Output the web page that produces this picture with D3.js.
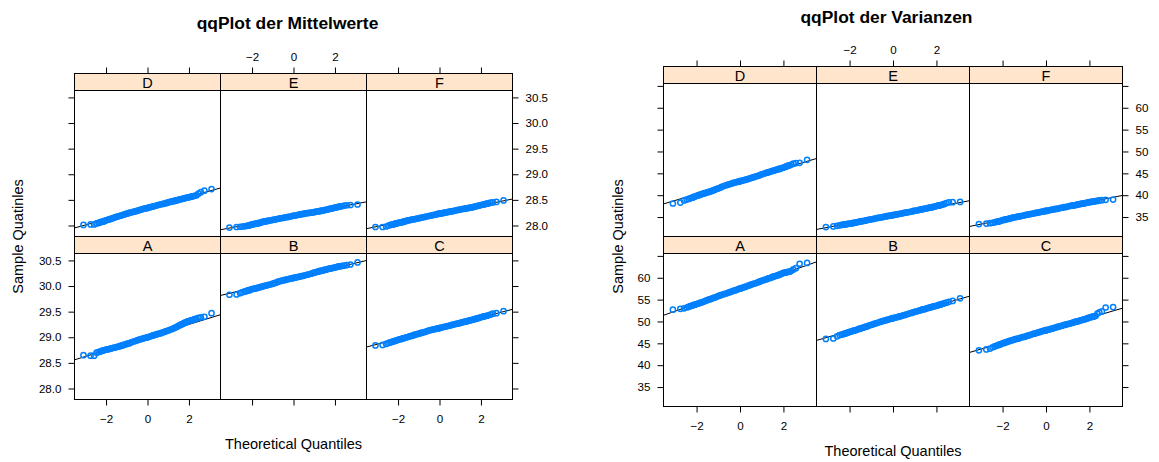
<!DOCTYPE html>
<html>
<head>
<meta charset="utf-8">
<script src="https://cdn.jsdelivr.net/npm/d3@7"></script>
<style>
  body { margin: 0; background: #fff; }
  svg text { font-family: "Liberation Sans", Arial, sans-serif; fill: #000; }
</style>
</head>
<body>
<svg id="chart" width="1159" height="462"></svg>
<script>
// ---- data -------------------------------------------------------------
// Each group holds 500 simulated statistics; the order statistics below are
// kept at these ranks (lower half, the upper half mirrors them).
const sampleSize = 500;
const lowerRanks = [1, 2, 3, 4, 5, 6, 7, 8, 9, 10, 12, 14, 16, 18, 20, 23, 26, 30, 34, 38,
  43, 48, 54, 60, 70, 80, 90, 100, 115, 130, 145, 160, 175, 190, 205, 220, 235, 250];

// layout order of the trellis: top row D E F, bottom row A B C
const panelRows = [["D", "E", "F"], ["A", "B", "C"]];

// sorted sample quantiles of the group means
const meanA = [28.65, 28.64, 28.64, 28.70, 28.71, 28.72, 28.73, 28.74, 28.745, 28.75, 28.76, 28.765, 28.77, 28.775, 28.78, 28.79, 28.795, 28.80, 28.81, 28.815, 28.82, 28.83, 28.835, 28.845, 28.86, 28.87, 28.88, 28.89, 28.905, 28.92, 28.93, 28.945, 28.955, 28.965, 28.975, 28.985, 28.99, 29.00,
  29.00, 29.01, 29.02, 29.03, 29.04, 29.05, 29.06, 29.07, 29.08, 29.095, 29.11, 29.12, 29.13, 29.145, 29.16, 29.17, 29.185, 29.195, 29.21, 29.225, 29.235, 29.25, 29.26, 29.275, 29.285, 29.295, 29.305, 29.315, 29.325, 29.33, 29.335, 29.345, 29.355, 29.365, 29.38, 29.39, 29.40, 29.47];
const meanB = [29.83, 29.835, 29.86, 29.88, 29.89, 29.90, 29.91, 29.915, 29.92, 29.93, 29.94, 29.945, 29.95, 29.955, 29.96, 29.97, 29.975, 29.985, 29.99, 30.00, 30.005, 30.01, 30.02, 30.025, 30.035, 30.045, 30.055, 30.065, 30.085, 30.095, 30.105, 30.115, 30.12, 30.13, 30.135, 30.145, 30.15, 30.155,
  30.16, 30.165, 30.17, 30.18, 30.185, 30.195, 30.20, 30.21, 30.22, 30.23, 30.24, 30.25, 30.26, 30.27, 30.28, 30.29, 30.295, 30.30, 30.31, 30.315, 30.32, 30.33, 30.335, 30.34, 30.345, 30.35, 30.355, 30.36, 30.37, 30.375, 30.38, 30.385, 30.39, 30.395, 30.40, 30.41, 30.42, 30.46];
const meanC = [28.84, 28.85, 28.87, 28.89, 28.90, 28.91, 28.92, 28.925, 28.93, 28.94, 28.95, 28.96, 28.965, 28.97, 28.98, 28.985, 28.995, 29.00, 29.01, 29.02, 29.025, 29.03, 29.04, 29.05, 29.06, 29.07, 29.08, 29.09, 29.10, 29.11, 29.125, 29.135, 29.145, 29.15, 29.16, 29.165, 29.175, 29.18,
  29.18, 29.19, 29.195, 29.205, 29.21, 29.22, 29.225, 29.235, 29.245, 29.255, 29.265, 29.27, 29.28, 29.29, 29.30, 29.305, 29.31, 29.32, 29.325, 29.33, 29.34, 29.345, 29.355, 29.36, 29.37, 29.375, 29.38, 29.39, 29.40, 29.405, 29.41, 29.415, 29.42, 29.43, 29.44, 29.46, 29.47, 29.51];
const meanD = [28.01, 28.02, 28.02, 28.04, 28.05, 28.06, 28.07, 28.075, 28.08, 28.09, 28.10, 28.11, 28.115, 28.125, 28.13, 28.14, 28.15, 28.16, 28.17, 28.175, 28.185, 28.19, 28.20, 28.21, 28.22, 28.23, 28.24, 28.25, 28.26, 28.27, 28.28, 28.29, 28.30, 28.31, 28.32, 28.33, 28.335, 28.34,
  28.345, 28.35, 28.36, 28.37, 28.375, 28.385, 28.395, 28.405, 28.415, 28.42, 28.43, 28.44, 28.45, 28.46, 28.47, 28.475, 28.48, 28.49, 28.495, 28.50, 28.51, 28.515, 28.52, 28.53, 28.535, 28.54, 28.545, 28.55, 28.56, 28.565, 28.57, 28.575, 28.58, 28.59, 28.62, 28.65, 28.68, 28.71];
const meanE = [27.96, 27.97, 27.975, 27.98, 27.985, 27.99, 27.995, 28.00, 28.005, 28.01, 28.02, 28.025, 28.03, 28.035, 28.04, 28.045, 28.05, 28.06, 28.07, 28.075, 28.08, 28.085, 28.09, 28.095, 28.10, 28.11, 28.115, 28.12, 28.13, 28.14, 28.145, 28.15, 28.16, 28.165, 28.17, 28.175, 28.185, 28.19,
  28.19, 28.195, 28.20, 28.21, 28.215, 28.22, 28.225, 28.235, 28.24, 28.245, 28.25, 28.255, 28.26, 28.27, 28.275, 28.28, 28.285, 28.29, 28.295, 28.30, 28.305, 28.31, 28.32, 28.325, 28.33, 28.335, 28.34, 28.35, 28.355, 28.36, 28.365, 28.37, 28.375, 28.38, 28.39, 28.395, 28.40, 28.41];
const meanF = [27.97, 27.97, 27.98, 28.00, 28.01, 28.015, 28.02, 28.03, 28.035, 28.04, 28.05, 28.055, 28.06, 28.065, 28.07, 28.08, 28.085, 28.095, 28.10, 28.105, 28.11, 28.115, 28.12, 28.125, 28.135, 28.14, 28.15, 28.155, 28.165, 28.175, 28.18, 28.19, 28.195, 28.205, 28.21, 28.215, 28.225, 28.23,
  28.23, 28.235, 28.24, 28.25, 28.255, 28.26, 28.27, 28.275, 28.28, 28.29, 28.30, 28.305, 28.31, 28.32, 28.325, 28.33, 28.335, 28.34, 28.345, 28.35, 28.355, 28.36, 28.37, 28.375, 28.38, 28.385, 28.39, 28.40, 28.405, 28.41, 28.415, 28.42, 28.425, 28.43, 28.445, 28.45, 28.46, 28.49];

// sorted sample quantiles of the group variances
const varA = [52.7, 52.9, 53.0, 53.2, 53.35, 53.5, 53.6, 53.7, 53.8, 53.85, 54.0, 54.1, 54.2, 54.3, 54.4, 54.5, 54.6, 54.8, 54.9, 55.0, 55.1, 55.2, 55.35, 55.45, 55.65, 55.8, 55.95, 56.1, 56.25, 56.4, 56.55, 56.7, 56.85, 57.0, 57.1, 57.25, 57.4, 57.5,
  57.5, 57.65, 57.8, 57.9, 58.05, 58.2, 58.35, 58.5, 58.65, 58.8, 59.0, 59.15, 59.3, 59.45, 59.6, 59.7, 59.85, 59.95, 60.05, 60.2, 60.3, 60.4, 60.5, 60.6, 60.7, 60.8, 60.95, 61.1, 61.2, 61.25, 61.3, 61.35, 61.4, 61.6, 61.9, 62.2, 63.2, 63.4];
const varB = [46.0, 46.1, 46.6, 46.9, 47.0, 47.1, 47.2, 47.3, 47.4, 47.45, 47.6, 47.7, 47.8, 47.9, 47.95, 48.05, 48.15, 48.3, 48.4, 48.5, 48.6, 48.7, 48.8, 48.9, 49.1, 49.25, 49.35, 49.5, 49.65, 49.8, 49.95, 50.1, 50.2, 50.3, 50.45, 50.55, 50.65, 50.75,
  50.75, 50.85, 50.95, 51.05, 51.15, 51.25, 51.4, 51.5, 51.65, 51.8, 51.95, 52.05, 52.2, 52.3, 52.45, 52.55, 52.65, 52.75, 52.8, 52.9, 53.0, 53.1, 53.2, 53.3, 53.35, 53.45, 53.5, 53.6, 53.7, 53.8, 53.85, 53.95, 54.05, 54.15, 54.3, 54.5, 54.7, 55.3];
const varC = [43.4, 43.6, 43.8, 44.1, 44.3, 44.45, 44.55, 44.65, 44.75, 44.85, 45.0, 45.1, 45.2, 45.3, 45.4, 45.5, 45.6, 45.7, 45.8, 45.9, 46.0, 46.05, 46.15, 46.25, 46.4, 46.5, 46.6, 46.75, 46.9, 47.05, 47.2, 47.3, 47.45, 47.55, 47.7, 47.8, 47.9, 48.0,
  48.0, 48.1, 48.2, 48.3, 48.4, 48.55, 48.65, 48.8, 48.9, 49.05, 49.2, 49.3, 49.4, 49.5, 49.65, 49.75, 49.85, 49.95, 50.0, 50.1, 50.2, 50.3, 50.4, 50.5, 50.55, 50.65, 50.75, 50.9, 51.0, 51.05, 51.1, 51.2, 51.3, 51.8, 52.1, 52.3, 53.2, 53.3];
const varD = [38.1, 38.3, 38.8, 39.0, 39.15, 39.3, 39.4, 39.5, 39.6, 39.7, 39.85, 39.95, 40.05, 40.15, 40.25, 40.35, 40.45, 40.55, 40.65, 40.75, 40.85, 40.95, 41.1, 41.2, 41.4, 41.55, 41.7, 41.9, 42.1, 42.25, 42.4, 42.55, 42.65, 42.8, 42.9, 43.0, 43.1, 43.2,
  43.2, 43.3, 43.4, 43.5, 43.6, 43.75, 43.85, 44.0, 44.15, 44.3, 44.45, 44.6, 44.75, 44.9, 45.05, 45.15, 45.25, 45.35, 45.45, 45.55, 45.65, 45.75, 45.85, 45.95, 46.0, 46.1, 46.2, 46.3, 46.45, 46.55, 46.65, 46.75, 46.85, 47.0, 47.2, 47.35, 47.4, 48.1];
const varE = [32.7, 32.85, 33.0, 33.1, 33.2, 33.25, 33.3, 33.35, 33.4, 33.45, 33.5, 33.55, 33.6, 33.65, 33.7, 33.8, 33.85, 33.9, 34.0, 34.05, 34.1, 34.15, 34.25, 34.3, 34.4, 34.5, 34.55, 34.65, 34.75, 34.85, 34.9, 35.0, 35.1, 35.15, 35.25, 35.3, 35.4, 35.45,
  35.45, 35.5, 35.6, 35.65, 35.75, 35.8, 35.9, 36.0, 36.05, 36.15, 36.25, 36.35, 36.45, 36.5, 36.6, 36.7, 36.75, 36.8, 36.9, 36.95, 37.0, 37.1, 37.15, 37.2, 37.3, 37.35, 37.4, 37.5, 37.6, 37.65, 37.7, 37.8, 37.85, 38.0, 38.2, 38.35, 38.4, 38.45];
const varF = [33.4, 33.5, 33.6, 33.7, 33.8, 33.9, 33.95, 34.0, 34.1, 34.15, 34.3, 34.35, 34.45, 34.5, 34.55, 34.65, 34.7, 34.8, 34.9, 34.95, 35.0, 35.1, 35.15, 35.2, 35.3, 35.4, 35.5, 35.55, 35.65, 35.75, 35.85, 35.95, 36.0, 36.1, 36.2, 36.25, 36.35, 36.4,
  36.4, 36.5, 36.55, 36.65, 36.7, 36.8, 36.85, 36.95, 37.05, 37.15, 37.25, 37.3, 37.4, 37.5, 37.6, 37.65, 37.7, 37.75, 37.85, 37.9, 37.95, 38.05, 38.1, 38.15, 38.2, 38.25, 38.3, 38.4, 38.45, 38.5, 38.55, 38.6, 38.65, 38.7, 38.8, 38.85, 38.95, 39.0];

// axis ticks
const quantileTicks = [-2, 0, 2];
const meanTicks = [28.0, 28.5, 29.0, 29.5, 30.0, 30.5];
const meanTickLabels = ["28.0", "28.5", "29.0", "29.5", "30.0", "30.5"];
const varTicks = [35, 40, 45, 50, 55, 60, 65];
const varTickLabels = ["35", "40", "45", "50", "55", "60", ""];

// ---- helpers ----------------------------------------------------------
// inverse standard normal CDF (Acklam's rational approximation)
function qnorm(p) {
  const a = [-3.969683028665376e+01, 2.209460984245205e+02, -2.759285104469687e+02, 1.383577518672690e+02, -3.066479806614716e+01, 2.506628277459239e+00];
  const b = [-5.447609879822406e+01, 1.615858368580409e+02, -1.556989798598866e+02, 6.680131188771972e+01, -1.328068155288572e+01];
  const c = [-7.784894002430293e-03, -3.223964580411365e-01, -2.400758277161838e+00, -2.549732539343734e+00, 4.374664141464968e+00, 2.938163982698783e+00];
  const d = [7.784695709041462e-03, 3.224671290700398e-01, 2.445134137142996e+00, 3.754408661907416e+00];
  const pl = 0.02425;
  if (p < pl) {
    const q = Math.sqrt(-2 * Math.log(p));
    return (((((c[0] * q + c[1]) * q + c[2]) * q + c[3]) * q + c[4]) * q + c[5]) / ((((d[0] * q + d[1]) * q + d[2]) * q + d[3]) * q + 1);
  }
  if (p > 1 - pl) return -qnorm(1 - p);
  const q = p - 0.5, r = q * q;
  return (((((a[0] * r + a[1]) * r + a[2]) * r + a[3]) * r + a[4]) * r + a[5]) * q /
    (((((b[0] * r + b[1]) * r + b[2]) * r + b[3]) * r + b[4]) * r + 1);
}

// theoretical quantiles at the kept ranks, ppoints(n) style
const ranks = lowerRanks.concat(lowerRanks.slice().reverse().map(r => sampleSize + 1 - r));
const theo = ranks.map(r => qnorm((r - 0.5) / sampleSize));

// sample value at a given theoretical quantile (linear between kept ranks)
function valueAt(z, ys) {
  const i = Math.max(0, Math.min(theo.length - 2, d3.bisectRight(theo, z) - 1));
  const t = (z - theo[i]) / (theo[i + 1] - theo[i]);
  return ys[i] + t * (ys[i + 1] - ys[i]);
}

const svg = d3.select("#chart");
const BLUE = "#0080ff";
const STRIP = "#ffe5cc";

function styleAxis(g) {
  g.select(".domain").remove();
  g.attr("font-family", null).attr("font-size", null);
  g.selectAll("line").attr("stroke", "#000");
  g.selectAll("text").style("font-size", "11.6px").attr("fill", "#000");
}

function drawTrellis(cfg) {
  const root = svg.append("g");
  const series = cfg.series;

  // limits shared by all panels, padded by 7% on each side
  const [xlo, xhi] = d3.extent(theo);
  const xpad = 0.07 * (xhi - xlo);
  const allY = Object.values(series).flat();
  const [ylo, yhi] = d3.extent(allY);
  const ypad = 0.07 * (yhi - ylo);

  const z25 = qnorm(0.25), z75 = qnorm(0.75);

  panelRows.forEach((rowNames, row) => {
    const top = row === 0 ? cfg.stripTop + cfg.stripH
                          : cfg.stripTop + 2 * cfg.stripH + cfg.panelH;
    rowNames.forEach((name, col) => {
      const left = cfg.x0 + col * cfg.panelW;
      const x = d3.scaleLinear().domain([xlo - xpad, xhi + xpad]).range([left, left + cfg.panelW]);
      const y = d3.scaleLinear().domain([ylo - ypad, yhi + ypad]).range([top + cfg.panelH, top]);
      const ys = series[name];
      const pts = theo.map((z, i) => [z, ys[i]]);

      // strip
      root.append("rect")
        .attr("x", left).attr("y", top - cfg.stripH)
        .attr("width", cfg.panelW).attr("height", cfg.stripH)
        .attr("fill", STRIP).attr("stroke", "#000").attr("stroke-width", 1);
      root.append("text")
        .attr("x", left + cfg.panelW / 2).attr("y", top - 2.5)
        .attr("text-anchor", "middle").style("font-size", "14.5px")
        .text(name);

      const clipId = `clip-${cfg.id}-${name}`;
      root.append("clipPath").attr("id", clipId)
        .append("rect").attr("x", left).attr("y", top)
        .attr("width", cfg.panelW).attr("height", cfg.panelH);
      const pg = root.append("g").attr("clip-path", `url(#${clipId})`);

      // reference line through the quartiles, drawn beneath the points
      const q25 = valueAt(z25, ys), q75 = valueAt(z75, ys);
      const slope = (q75 - q25) / (z75 - z25);
      const icpt = q25 - slope * z25;
      const [dx0, dx1] = x.domain();
      pg.append("line")
        .attr("x1", x(dx0)).attr("y1", y(icpt + slope * dx0))
        .attr("x2", x(dx1)).attr("y2", y(icpt + slope * dx1))
        .attr("stroke", "#000").attr("stroke-width", 1);

      // points
      pg.selectAll("circle").data(pts).join("circle")
        .attr("cx", d => x(d[0])).attr("cy", d => y(d[1]))
        .attr("r", 2.6)
        .attr("fill", "none").attr("stroke", BLUE).attr("stroke-width", 1.5);

      // panel border
      root.append("rect")
        .attr("x", left).attr("y", top)
        .attr("width", cfg.panelW).attr("height", cfg.panelH)
        .attr("fill", "none").attr("stroke", "#000").attr("stroke-width", 1);

      // x axes: ticks on the outer side, labels alternate between bottom and top
      if (row === 1) {
        root.append("g").attr("transform", `translate(0,${top + cfg.panelH})`)
          .call(d3.axisBottom(x).tickValues(quantileTicks).tickSize(6).tickPadding(9.5)
            .tickFormat(col === 1 ? () => "" : d3.format("d")))
          .call(styleAxis);
      } else {
        root.append("g").attr("transform", `translate(0,${top - cfg.stripH})`)
          .call(d3.axisTop(x).tickValues(quantileTicks).tickSize(6).tickPadding(6.3)
            .tickFormat(col === 1 ? d3.format("d") : () => ""))
          .call(styleAxis);
      }

      // y axes: left labels on the bottom row, right labels on the top row
      const lab = (d) => cfg.yTickLabels[cfg.yTicks.indexOf(d)];
      if (col === 0) {
        root.append("g").attr("transform", `translate(${left},0)`)
          .call(d3.axisLeft(y).tickValues(cfg.yTicks).tickSize(6).tickPadding(7)
            .tickFormat(row === 1 ? lab : () => ""))
          .call(styleAxis);
      }
      if (col === 2) {
        root.append("g").attr("transform", `translate(${left + cfg.panelW},0)`)
          .call(d3.axisRight(y).tickValues(cfg.yTicks).tickSize(6).tickPadding(7)
            .tickFormat(row === 0 ? lab : () => ""))
          .call(styleAxis);
      }
    });
  });

  // titles and axis labels
  root.append("text")
    .attr("x", cfg.titleX).attr("y", cfg.titleY)
    .attr("text-anchor", "middle")
    .style("font-size", "17.4px").style("font-weight", "bold")
    .text(cfg.title);

  const midY = (cfg.stripTop + cfg.stripTop + 2 * cfg.stripH + 2 * cfg.panelH) / 2;
  root.append("text")
    .attr("transform", `translate(${cfg.ylabX},${midY}) rotate(-90)`)
    .attr("text-anchor", "middle").style("font-size", "14.5px")
    .text("Sample Quatinles");

  root.append("text")
    .attr("x", cfg.x0 + 1.5 * cfg.panelW).attr("y", cfg.xlabY)
    .attr("text-anchor", "middle").style("font-size", "14.5px")
    .text("Theoretical Quantiles");
}

drawTrellis({
  id: "mean",
  title: "qqPlot der Mittelwerte",
  titleX: 287.5, titleY: 29.3,
  x0: 74.5, panelW: 146,
  stripTop: 73.5, stripH: 17, panelH: 146,
  series: { A: meanA, B: meanB, C: meanC, D: meanD, E: meanE, F: meanF },
  yTicks: meanTicks, yTickLabels: meanTickLabels,
  ylabX: 23, xlabY: 449
});

drawTrellis({
  id: "var",
  title: "qqPlot der Varianzen",
  titleX: 886.5, titleY: 22.7,
  x0: 663.5, panelW: 153,
  stripTop: 66.5, stripH: 17, panelH: 153,
  series: { A: varA, B: varB, C: varC, D: varD, E: varE, F: varF },
  yTicks: varTicks, yTickLabels: varTickLabels,
  ylabX: 622.5, xlabY: 456
});
</script>
</body>
</html>
